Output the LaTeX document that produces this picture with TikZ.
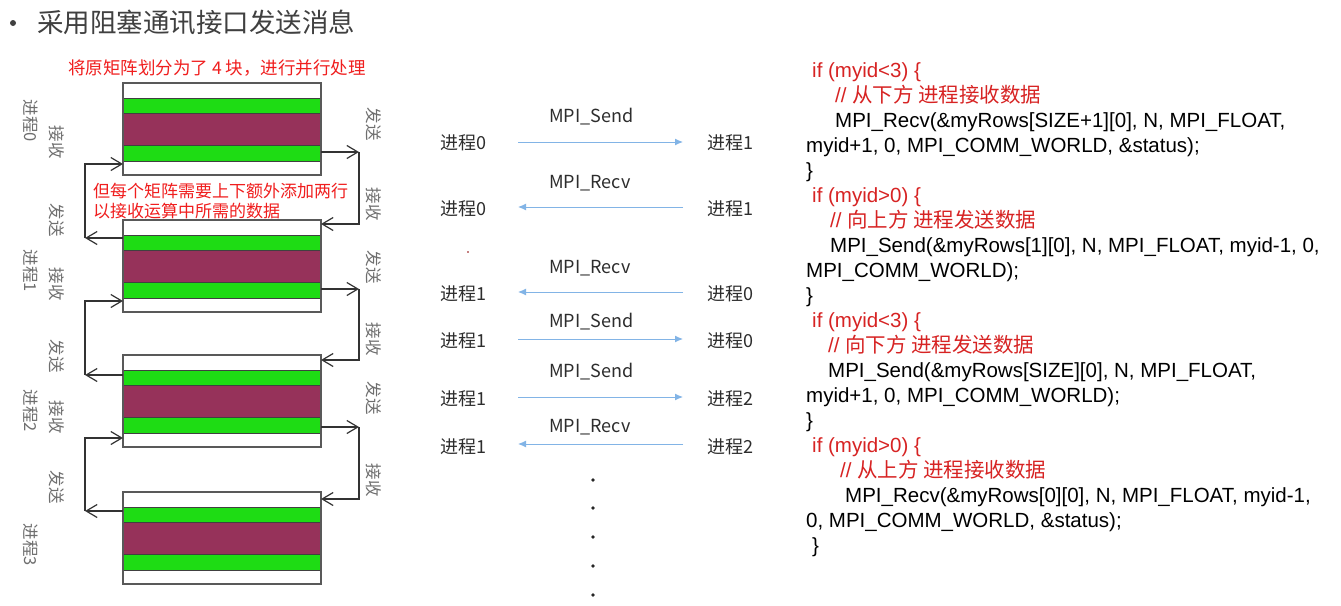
\documentclass[tikz,border=0pt]{standalone}
\usepackage{fontspec}
\setmainfont{Liberation Sans}
\newfontfamily\cjk{Noto Sans CJK SC}
\usetikzlibrary{arrows.meta}
\definecolor{mgreen}{RGB}{30,220,20}
\definecolor{mmaroon}{RGB}{150,50,90}
\definecolor{tred}{RGB}{240,30,30}
\definecolor{cred}{RGB}{215,35,35}
\definecolor{abl}{RGB}{130,180,230}
\definecolor{lgray}{RGB}{110,110,110}
\definecolor{tgray}{RGB}{64,64,64}
\definecolor{mgray}{RGB}{45,45,45}
\tikzset{
  vlab/.style={font=\cjk\fontsize{16.5}{18}\selectfont, text=lgray, rotate=-90, inner sep=0pt},
  codeln/.style={anchor=base west, inner sep=0pt, font=\fontsize{20.5}{24}\selectfont, text=black},
  codered/.style={codeln, text=cred},
  proc/.style={anchor=west, inner sep=0pt, font=\cjk\fontsize{18}{20}\selectfont, text=mgray},
  sendarr/.style={draw=abl, line width=1pt, -{Latex[length=8pt,width=7pt]}},
  link/.style={draw=black!80, line width=1.2pt},
  barb/.style={-{Straight Barb[length=11pt,width=13pt]}},
  blk/.style={draw=black!65, line width=1.2pt, minimum width=198pt, minimum height=92pt, inner sep=0pt},
  gband/.style={fill=mgreen, draw=black!75, line width=0.8pt},
  mband/.style={fill=mmaroon, draw=black!75, line width=0.8pt},
}
\newcommand\mtxblock[2]{%
  \draw[gband] (123,#2+15) rectangle (321,#2+30);
  \draw[mband] (123,#2+30) rectangle (321,#2+62);
  \draw[gband] (123,#2+62) rectangle (321,#2+78);
  \node[blk] (#1) at (222,#2+46) {};
}
\begin{document}
\begin{tikzpicture}[x=1pt,y=-1pt]
\useasboundingbox[fill=white] (0,0) rectangle (1341,605);

% title
\node[circle, fill=tgray, inner sep=0pt, minimum size=6pt] (bullet) at (13,23) {};
\node[anchor=west, inner sep=0pt, font=\cjk\fontsize{26.5}{28}\selectfont, text=tgray] (title) at (37,22) {采用阻塞通讯接口发送消息};

% notes
\node[anchor=west, inner sep=0pt, font=\cjk\fontsize{17.5}{19}\selectfont, text=tred] (note1) at (68,68) {将原矩阵划分为了 4 块，进行并行处理};

% blocks
\mtxblock{b0}{83}
\mtxblock{b1}{220}
\mtxblock{b2}{355}
\mtxblock{b3}{492}

\node[anchor=west, inner sep=0pt, align=left, font=\cjk\fontsize{17}{20}\selectfont, text=tred] (note2) at (93,201) {但每个矩阵需要上下额外添加两行\\以接收运算中所需的数据};

% right-side exchange coordinates
\coordinate (r0s) at (321,152); \coordinate (r0c) at (359,152);
\coordinate (r0d) at (359,224); \coordinate (r0e) at (321,224);
\coordinate (r1s) at (321,289); \coordinate (r1c) at (359,289);
\coordinate (r1d) at (359,360); \coordinate (r1e) at (321,360);
\coordinate (r2s) at (321,427); \coordinate (r2c) at (359,427);
\coordinate (r2d) at (359,499); \coordinate (r2e) at (321,499);
% left-side exchange coordinates
\coordinate (l0s) at (123,238); \coordinate (l0c) at (85,238);
\coordinate (l0d) at (85,164);  \coordinate (l0e) at (123,164);
\coordinate (l1s) at (123,375); \coordinate (l1c) at (85,375);
\coordinate (l1d) at (85,301);  \coordinate (l1e) at (123,301);
\coordinate (l2s) at (123,511); \coordinate (l2c) at (85,511);
\coordinate (l2d) at (85,438);  \coordinate (l2e) at (123,438);

\foreach \i in {0,1,2}{
  \draw[link,barb] (r\i s) -- (r\i c);
  \draw[link,barb] (r\i c) -- (r\i d) -- (r\i e);
  \draw[link,barb] (l\i s) -- (l\i c);
  \draw[link,barb] (l\i c) -- (l\i d) -- (l\i e);
}

% vertical labels
\node[vlab] (lp0) at (31,121) {进程0};
\node[vlab] (lr0) at (57,142) {接收};
\node[vlab] (rs0) at (374,124) {发送};
\node[vlab] (rr1) at (374,204) {接收};
\node[vlab] (ls1) at (57,220) {发送};
\node[vlab] (lp1) at (31,271) {进程1};
\node[vlab] (lr1) at (57,284) {接收};
\node[vlab] (rs1) at (374,267) {发送};
\node[vlab] (rr2) at (374,339) {接收};
\node[vlab] (ls2) at (57,356) {发送};
\node[vlab] (lp2) at (31,411) {进程2};
\node[vlab] (lr2) at (57,417) {接收};
\node[vlab] (rs2) at (374,398) {发送};
\node[vlab] (rr3) at (374,480) {接收};
\node[vlab] (ls3) at (57,487) {发送};
\node[vlab] (lp3) at (31,545) {进程3};

% middle: message rows
\node[proc] (m1l) at (440,143) {进程0};
\node[proc] (m1r) at (707,143) {进程1};
\node[proc] (m1t) at (549,117) {MPI\_Send};
\node[proc] (m2l) at (440,209) {进程0};
\node[proc] (m2r) at (707,209) {进程1};
\node[proc] (m2t) at (549,183) {MPI\_Recv};
\node[proc] (m3l) at (440,294) {进程1};
\node[proc] (m3r) at (707,294) {进程0};
\node[proc] (m3t) at (549,268) {MPI\_Recv};
\node[proc] (m4l) at (440,341) {进程1};
\node[proc] (m4r) at (707,341) {进程0};
\node[proc] (m4t) at (549,322) {MPI\_Send};
\node[proc] (m5l) at (440,399) {进程1};
\node[proc] (m5r) at (707,399) {进程2};
\node[proc] (m5t) at (549,372) {MPI\_Send};
\node[proc] (m6l) at (440,447) {进程1};
\node[proc] (m6r) at (707,447) {进程2};
\node[proc] (m6t) at (549,427) {MPI\_Recv};

\coordinate (a1l) at (518,142); \coordinate (a1r) at (683,142);
\coordinate (a2l) at (518,207); \coordinate (a2r) at (683,207);
\coordinate (a3l) at (518,292); \coordinate (a3r) at (683,292);
\coordinate (a4l) at (518,339); \coordinate (a4r) at (683,339);
\coordinate (a5l) at (518,397); \coordinate (a5r) at (683,397);
\coordinate (a6l) at (518,444); \coordinate (a6r) at (683,444);
\draw[sendarr] (a1l) -- (a1r);
\draw[sendarr] (a2r) -- (a2l);
\draw[sendarr] (a3r) -- (a3l);
\draw[sendarr] (a4l) -- (a4r);
\draw[sendarr] (a5l) -- (a5r);
\draw[sendarr] (a6r) -- (a6l);

\fill[red!55!black] (468,252) circle (0.9);
\foreach \yy in {480,508,537,566,595} \fill[black!85] (593,\yy) circle (1.9);

% code
\node[codered] (c0)  at (812,77)  {if (myid<3) \{};
\node[codered] (c1)  at (835,102) {// {\cjk 从下方 进程接收数据}};
\node[codeln]  (c2)  at (835,127) {MPI\_Recv(\&myRows[SIZE+1][0], N, MPI\_FLOAT,};
\node[codeln]  (c3)  at (806,152) {myid+1, 0, MPI\_COMM\_WORLD, \&status);};
\node[codeln]  (c4)  at (806,177) {\}};
\node[codered] (c5)  at (812,202) {if (myid>0) \{};
\node[codered] (c6)  at (830,227) {// {\cjk 向上方 进程发送数据}};
\node[codeln]  (c7)  at (830,252) {MPI\_Send(\&myRows[1][0], N, MPI\_FLOAT, myid-1, 0,};
\node[codeln]  (c8)  at (806,277) {MPI\_COMM\_WORLD);};
\node[codeln]  (c9)  at (806,302) {\}};
\node[codered] (c10) at (812,327) {if (myid<3) \{};
\node[codered] (c11) at (828,352) {// {\cjk 向下方 进程发送数据}};
\node[codeln]  (c12) at (828,377) {MPI\_Send(\&myRows[SIZE][0], N, MPI\_FLOAT,};
\node[codeln]  (c13) at (806,402) {myid+1, 0, MPI\_COMM\_WORLD);};
\node[codeln]  (c14) at (806,427) {\}};
\node[codered] (c15) at (812,452) {if (myid>0) \{};
\node[codered] (c16) at (840,477) {// {\cjk 从上方 进程接收数据}};
\node[codeln]  (c17) at (845,502) {MPI\_Recv(\&myRows[0][0], N, MPI\_FLOAT, myid-1,};
\node[codeln]  (c18) at (806,527) {0, MPI\_COMM\_WORLD, \&status);};
\node[codeln]  (c19) at (812,552) {\}};
\end{tikzpicture}
\end{document}
